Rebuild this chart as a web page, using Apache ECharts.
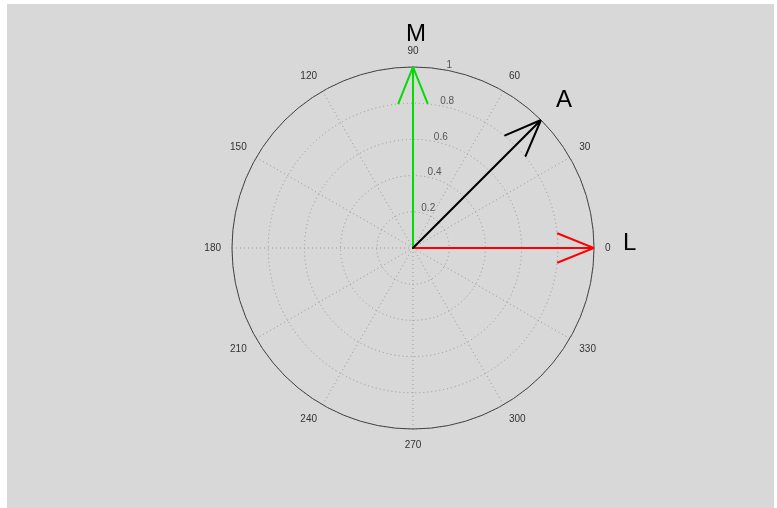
<!DOCTYPE html>
<html><head><meta charset="utf-8">
<script src="https://cdn.jsdelivr.net/npm/echarts@6/dist/echarts.min.js"></script>
<style>html,body{margin:0;padding:0;background:#fff;}#c{width:777px;height:508px;}</style>
</head><body><div id="c"></div>
<script>
// ---- data ----
const vectorNames = ['L', 'M', 'A'];
const vectorMagnitudes = [1, 1, 1];
const vectorAngles = [0, 90, 45];
const vectorColors = ['#ff0000', '#00dd00', '#000000'];
const angleTicks = [0, 30, 60, 90, 120, 150, 180, 210, 240, 270, 300, 330];
const radiusTicks = [0.2, 0.4, 0.6, 0.8, 1];
const radiusLabelAngle = 80;

// layout: pixel nudges of the vector name labels
const nameLabelRadius = 1.18;
const nameLabelNudge = [[3, -5], [3, 0], [0, 3]];

// MATLAB compass arrow shape (fractions of vector length)
const headBack = 0.8, headSide = 0.08;
const headR = Math.sqrt(headBack * headBack + headSide * headSide);
const headA = Math.atan2(headSide, headBack) * 180 / Math.PI;

const chart = echarts.init(document.getElementById('c'));
const font = 'Liberation Sans, Arial, sans-serif';

const series = vectorNames.map((n, i) => {
  const m = vectorMagnitudes[i], a = vectorAngles[i];
  return {
    type: 'line', coordinateSystem: 'polar', polarIndex: 0, name: n,
    symbol: 'none', clip: false, animation: false, z: 5,
    lineStyle: { color: vectorColors[i], width: 2, cap: 'round', join: 'round' },
    data: [[0, a], [m, a], [m * headR, a + headA], [m, a], [m * headR, a - headA]]
  };
});
series.push({
  type: 'scatter', coordinateSystem: 'polar', symbolSize: 0, animation: false, silent: true,
  data: radiusTicks.map(r => [r, radiusLabelAngle]),
  label: { show: true, formatter: p => String(p.value[0]), position: [2, 1], align: 'left', verticalAlign: 'bottom',
           color: '#333', fontSize: 10, fontFamily: font }
});

chart.setOption({
  backgroundColor: '#fff',
  animation: false,
  polar: { center: [413, 248], radius: 181 },
  angleAxis: {
    type: 'value', min: 0, max: 360, interval: 30, startAngle: 0, clockwise: false,
    axisLine: { show: true, lineStyle: { color: '#444', width: 1 } },
    axisTick: { show: false },
    axisLabel: {
      show: true, margin: 11, color: '#333', fontSize: 10, fontFamily: font,
      customValues: angleTicks, formatter: v => (v >= 360 ? '' : String(v))
    },
    splitLine: { show: true, lineStyle: { color: '#999', type: [1, 3], width: 1 } }
  },
  radiusAxis: {
    type: 'value', min: 0, max: 1, interval: 0.2,
    axisLine: { show: false }, axisTick: { show: false }, axisLabel: { show: false },
    splitLine: { show: true, lineStyle: { color: '#999', type: [1, 3], width: 1 } }
  },
  series: series
});

const graphics = [{ type: 'rect', shape: { x: 7, y: 4, width: 767, height: 504 }, style: { fill: '#d8d8d8' }, z: -10, silent: true }];
vectorNames.forEach((n, i) => {
  const p = chart.convertToPixel({ polarIndex: 0 }, [vectorMagnitudes[i] * nameLabelRadius, vectorAngles[i]]);
  graphics.push({ type: 'text', x: p[0] + nameLabelNudge[i][0], y: p[1] + nameLabelNudge[i][1], z: 10, silent: true,
    style: { text: n, fill: '#000', font: '24px ' + font, textAlign: 'center', textVerticalAlign: 'middle' } });
});
chart.setOption({ graphic: graphics });
</script></body></html>
